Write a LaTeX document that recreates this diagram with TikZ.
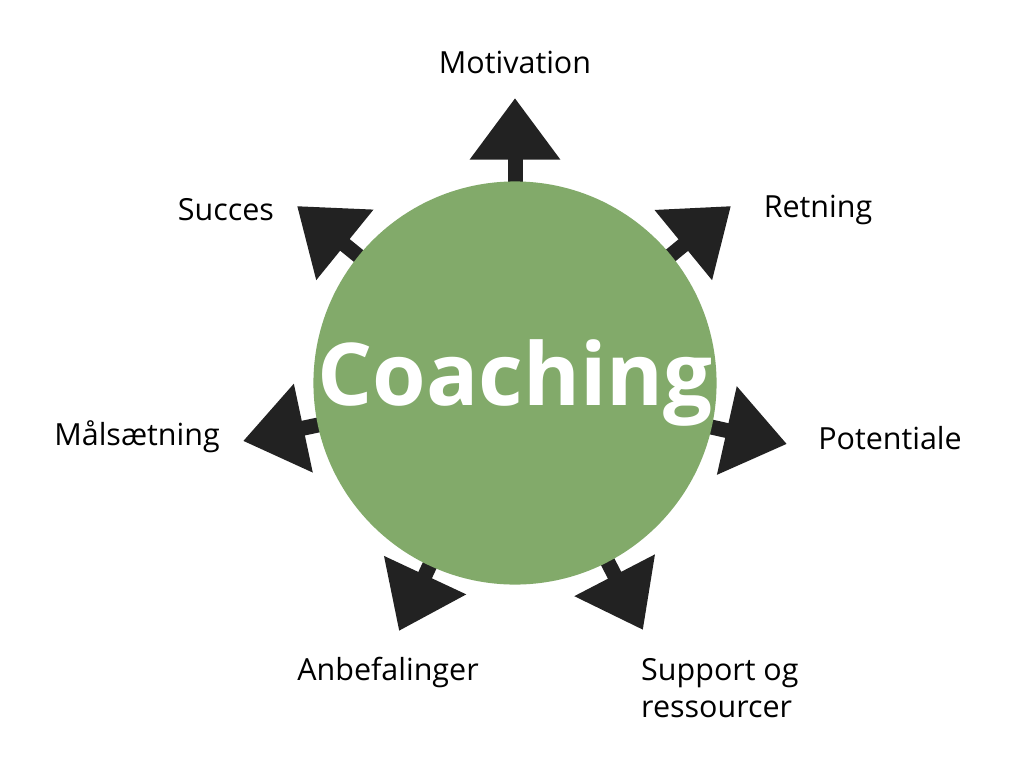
\documentclass[tikz,border=0pt]{standalone}
\usepackage{fontspec}
\setmainfont{Open Sans}
\usetikzlibrary{arrows.meta,backgrounds}
\definecolor{cgreen}{HTML}{82AA6A}
\definecolor{adark}{HTML}{222222}
\tikzset{
 arr/.style={adark,line width=0.45cm,-{Triangle[length=1.85cm,width=2.6cm]}},
 lbl/.style={font=\fontsize{26}{31}\selectfont,text=black,inner sep=0pt}
}
\begin{document}
\begin{tikzpicture}[x=0.03cm,y=-0.03cm]
\useasboundingbox (0,0) rectangle (1024,773);
\node[circle,fill=cgreen,minimum size=386*0.03cm,inner sep=0pt,text=white,font=\bfseries\fontsize{74}{80}\selectfont] (c) at (515,383) {Coaching};
\coordinate (t1) at (515,98);
\coordinate (t2) at (731,206);
\coordinate (t3) at (787,444);
\coordinate (t4) at (643,630);
\coordinate (t5) at (399,631);
\coordinate (t6) at (243,441);
\coordinate (t7) at (297,206);
\begin{scope}[on background layer]
\foreach \t in {t1,t2,t3,t4,t5,t6,t7} \draw[arr] (c.center) -- (\t);
\end{scope}
\node[lbl] (l1) at (515,62) {Motivation};
\node[lbl] (l2) at (818,210) {Retning};
\node[lbl] (l3) at (890,438) {Potentiale};
\node[lbl,align=left,anchor=west] (l4) at (641,688) {Support og\\ressourcer};
\node[lbl] (l5) at (388,672) {Anbefalinger};
\node[lbl] (l6) at (137,437) {Målsætning};
\node[lbl] (l7) at (226,210) {Succes};
\end{tikzpicture}
\end{document}
